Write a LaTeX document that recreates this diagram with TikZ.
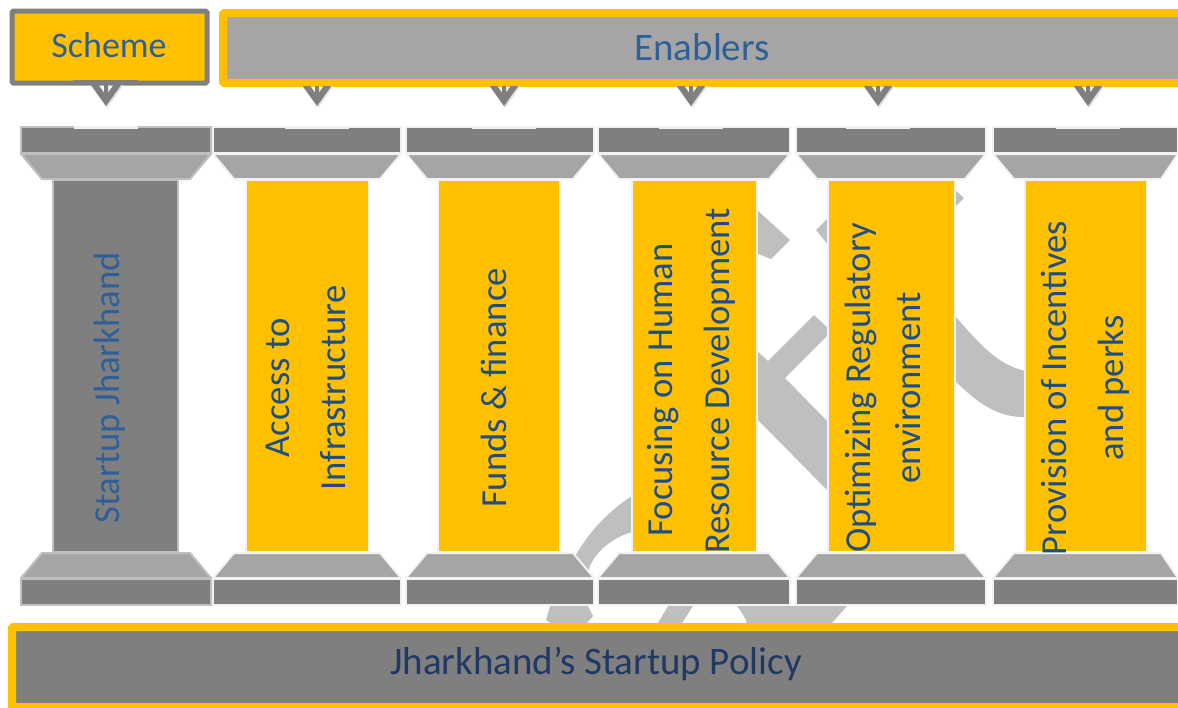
\documentclass[tikz,border=0pt]{standalone}
\usepackage{fontspec}
\setmainfont{Carlito}
\usetikzlibrary{fit,arrows.meta}
\definecolor{og}{HTML}{FFC000}
\definecolor{dg}{HTML}{7F7F7F}
\definecolor{mg}{HTML}{A5A5A5}
\definecolor{lg}{HTML}{BFBFBF}
\definecolor{edge}{HTML}{F2F2F2}
\definecolor{blueA}{HTML}{2F5F98}
\definecolor{blueB}{HTML}{1F4E85}
\definecolor{blueC}{HTML}{1F3864}
\tikzset{
  box/.style={fit={#1},inner sep=0pt,outer sep=0pt},
  ribbon/.style={fill=lg,draw=none},
  capbox/.style={draw=edge,line width=1.5pt,fill=dg},
  capedge/.style={draw=edge,line width=1.5pt,fill=mg,line join=round},
  firstbox/.style={draw=lg,line width=1.5pt,fill=dg},
  firstedge/.style={draw=lg,line width=1.5pt,fill=mg,line join=round},
  shaftbox/.style={fill=og,draw=edge,line width=1pt},
  head/.style={font=\fontsize{27}{32}\selectfont,inner sep=0pt},
  vert/.style={rotate=90,align=center,inner sep=0pt,text=blueB,font=\fontsize{27.5}{42.5}\selectfont},
  arrowline/.style={draw=dg,line width=3pt,-{Straight Barb[length=14pt,width=20pt,line width=4.6pt]}},
  arrowshade/.style={draw=black!12,line width=3pt,-{Straight Barb[length=14pt,width=20pt,line width=4.6pt]}},
}
\begin{document}
\begin{tikzpicture}[x=0.75pt,y=-0.75pt]
\useasboundingbox (0,0) rectangle (1178,707);
\clip (0,0) rectangle (1178,707);
% faint ribbons behind the pillars
\fill[ribbon] (756,209) -- (790,240) -- (771,259) -- (756,253) -- cycle;
\fill[ribbon] (816,230) -- (829,217) -- (829,246) -- cycle;
\fill[ribbon] (954,189) -- (964,198) -- (954,208) -- cycle;
\fill[ribbon] (756,350) -- (768,361) -- (814,315) -- (829,329) -- (829,334) -- (785,378) -- (829,423) -- (829,492) -- (756,418) -- cycle;
\fill[ribbon] (954,315) .. controls (975,338) and (995,365) .. (1026,371) -- (1026,417) .. controls (995,418) and (975,400) .. (954,380) -- cycle;
\fill[ribbon] (632,496) .. controls (610,510) and (590,530) .. (574,558) -- (588,572) .. controls (592,555) and (610,538) .. (632,532) -- cycle;
\fill[ribbon] (550,606) -- (546,620) -- (550,623) -- (587,623) -- (593,616) -- (588,606) -- cycle;
\fill[ribbon] (668,606) -- (658,623) -- (682,623) -- (693,606) -- cycle;
\fill[ribbon] (737,606) .. controls (742,612) and (745,618) .. (747,623) -- (832,623) -- (847,606) -- cycle;
% header boxes
\node[box={(12,11)(207,83)},draw=dg,line width=3.75pt,fill=og,rounded corners=1pt] (scheme) {};
\node[head,text=blueA] (schemeT) at (109,45) {Scheme};
\node[box={(223,13)(1190,83)},draw=og,line width=6pt,fill=mg,rounded corners=1pt] (enablers) {};
\node[head,text=blueA,font=\fontsize{29.2}{32}\selectfont] (enablersT) at (702,47) {Enablers};
% pillars
\foreach \n/\a/\b/\s/\t/\sty in {1/21/211/53/178/first,2/213/401/246/369/cap,3/406/594/438/560/cap,4/598/790/632/757/cap,5/796/986/828/955/cap,6/993/1190/1025/1147/cap}{
  \pgfmathsetmacro{\c}{\a+32}
  \pgfmathsetmacro{\d}{\b-21-(\n==6)*8}
  \pgfmathsetmacro{\e}{(\n==6)*1178+(\n<6)*\b}
  \node[box={(\a,127)(\e,153)},\sty box] (top\n) {};
  \draw[\sty edge] (\a,154) -- (\e,154) -- (\d,179) -- (\c-11,179) -- cycle;
  \ifnum\n=1
    \node[box={(\s,180)(\t,552)},draw=lg,line width=1.5pt,fill=dg] (shaft\n) {};
  \else
    \node[box={(\s,180)(\t,552)},shaftbox] (shaft\n) {};
  \fi
  \draw[\sty edge] (\c-11,553) -- (\d,553) -- (\e,578) -- (\a,578) -- cycle;
  \node[box={(\a,579)(\e,605)},\sty box] (foot\n) {};
}
% arrows
\foreach \n/\x in {1/106,2/317,3/504,4/691,5/878,6/1088}{
  \coordinate (from\n) at (\x,83);
  \coordinate (to\n) at (\x,106);
  \coordinate (fromS\n) at (\x+1,85);
  \coordinate (toS\n) at (\x+1,108);
  \draw[arrowshade] (fromS\n) -- (toS\n);
  \draw[arrowline] (from\n) -- (to\n);
}
\fill[dg] (73,80) rectangle (138,85);
\foreach \x in {317,504,691,878,1088}{ \fill[og] (\x-32,79) rectangle (\x+32,86); }
\foreach \x in {106,317,504,691,878,1088}{ \fill[edge] (\x-32,126) rectangle (\x+32,128.5); }
% base band
\node[box={(12,627)(1190,707)},draw=og,line width=6pt,fill=dg,rounded corners=1pt] (policy) {};
\node[head,text=blueC,font=\fontsize{29.2}{32}\selectfont] (policyT) at (596,664) {Jharkhand’s Startup Policy};
% pillar labels
\node[vert,text=blueA] (l1) at (110,388) {Startup Jharkhand};
\node[vert] (l2) at (306,388) {Access to\\Infrastructure};
\node[vert] (l3) at (494,388) {Funds \& finance};
\node[vert] (l4) at (691,381) {Focusing on Human\rule{13.5pt}{0pt}\\Resource Development};
\node[vert,font=\fontsize{27.5}{38}\selectfont] (l5) at (883,388) {Optimizing Regulatory\\environment};
\node[vert] (l6) at (1085,388) {Provision of Incentives\\and perks};
\end{tikzpicture}
\end{document}
